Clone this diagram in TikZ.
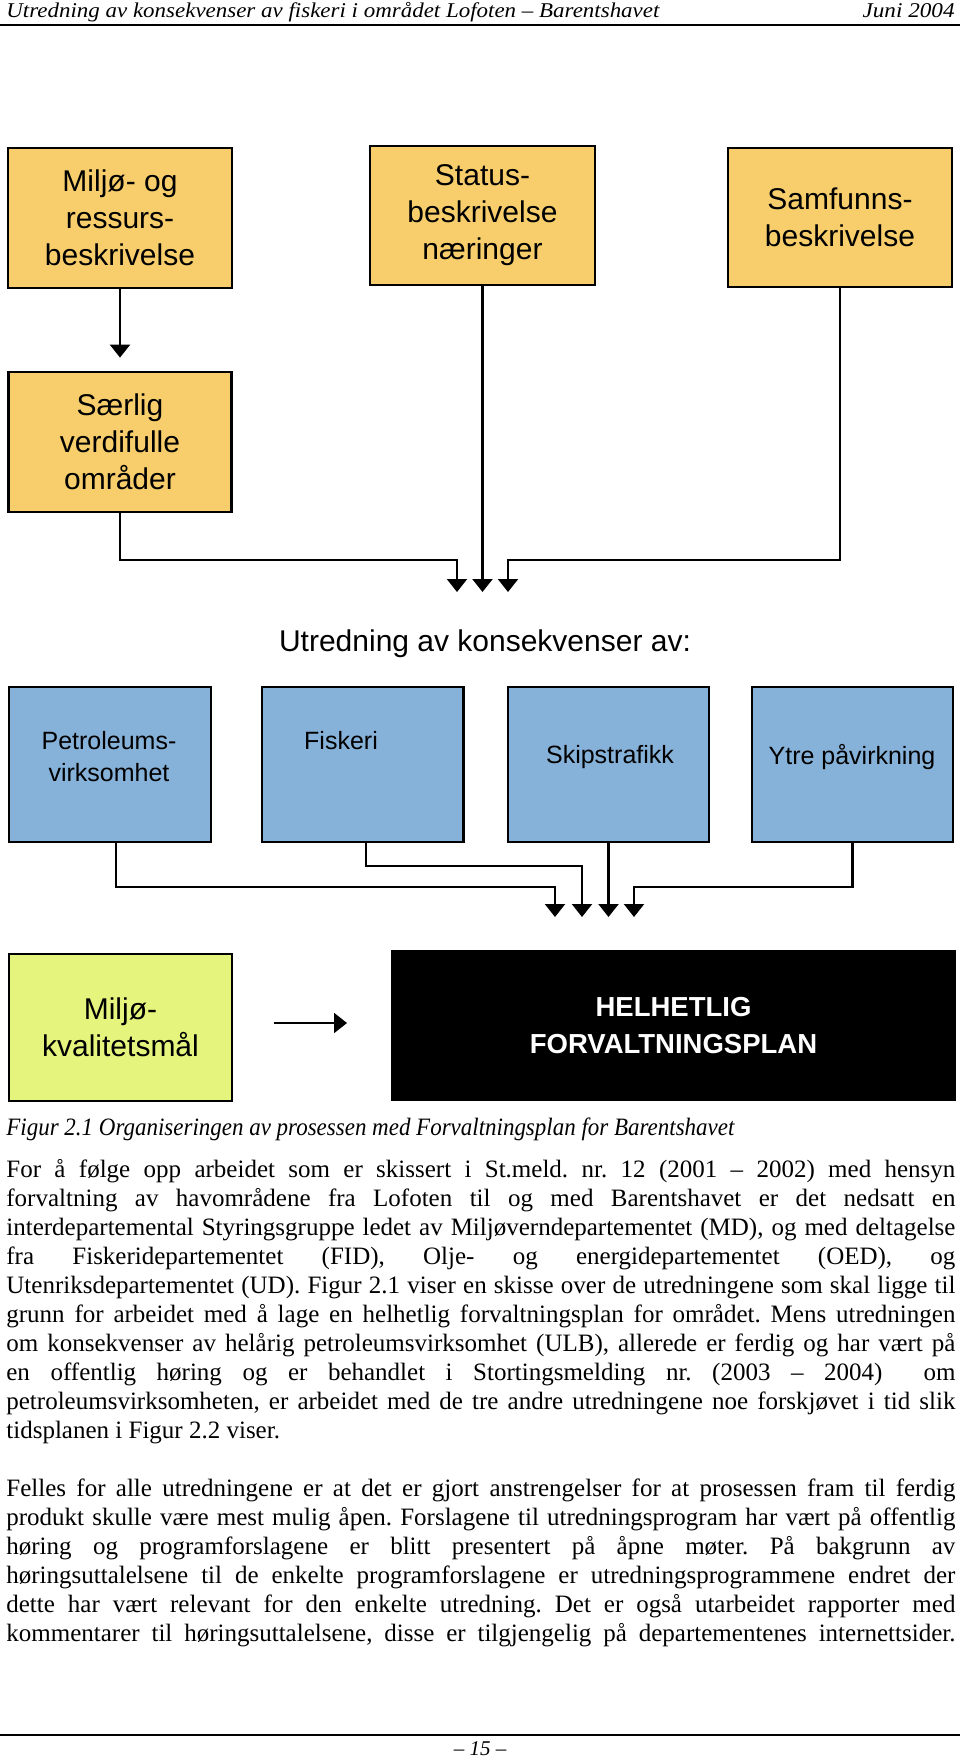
\documentclass[tikz,border=0pt]{standalone}
\usepackage{fontspec}
\usepackage{graphicx}
\setmainfont{Liberation Serif}
\newfontfamily\arial{Liberation Sans}
\usetikzlibrary{arrows.meta}
\definecolor{boxyellow}{RGB}{247,206,107}
\definecolor{boxblue}{RGB}{134,177,216}
\definecolor{boxlime}{RGB}{228,244,124}
\frenchspacing
\tikzset{
  box/.style={draw=black, line width=1.4pt, inner sep=0pt, align=center, font=\arial\fontsize{15}{18.5}\selectfont},
  ybox/.style={box, fill=boxyellow},
  bbox/.style={box, fill=boxblue},
  conn/.style={line width=1.1pt, draw=black},
  arr/.style={-{Triangle[width=10pt,length=6.5pt]}},
  blab/.style={align=center, inner sep=0pt, font=\arial\fontsize{12.5}{16}\selectfont},
  bodyline/.style={anchor=base west, inner sep=0pt, font=\fontsize{12.5}{14.5}\selectfont},
}
\newcommand{\jl}[3]{\node[bodyline] (#1) at (6,#2) {\makebox[474.5pt][s]{#3}};}
\begin{document}
\begin{tikzpicture}[x=0.5pt,y=-0.5pt]
\useasboundingbox[fill=white] (0,0) rectangle (960,1760);

% header
\node[anchor=base west, inner sep=0pt] (hdr) at (6,18) {\resizebox{326.5pt}{\height}{\itshape\fontsize{10.5}{12}\selectfont Utredning av konsekvenser av fiskeri i området Lofoten – Barentshavet}};
\node[anchor=base east, inner sep=0pt] (date) at (955,18) {\resizebox{46pt}{\height}{\itshape\fontsize{10.5}{12}\selectfont Juni 2004}};
\draw[line width=1pt] (0,25) -- (960,25);

% top boxes
\node[ybox, minimum width=112pt, minimum height=70pt] (A) at (120,218) {Miljø- og\\ressurs-\\beskrivelse};
\node[ybox, minimum width=112.5pt, minimum height=69.5pt] (B) at (482.5,215.5) {Status-\\beskrivelse\\næringer};
\node[ybox, minimum width=112pt, minimum height=69.5pt] (C) at (840,217.5) {Samfunns-\\beskrivelse};
\node[ybox, minimum width=111.5pt, minimum height=70pt] (D) at (120,442) {Særlig\\verdifulle\\områder};

\coordinate (t1) at (457,592);
\coordinate (t2) at (482.5,592);
\coordinate (t3) at (508,592);
\draw[conn, arr] (A.south) -- ([yshift=6.5pt]D.north);
\draw[conn, arr] (D.south) |- ([yshift=16pt]t1) -- (t1);
\draw[conn, arr] (B.south) -- (t2);
\draw[conn, arr] (C.south) |- ([yshift=16pt]t3) -- (t3);

\node[inner sep=0pt, font=\arial\fontsize{15}{18}\selectfont] (utr) at (485,644) {Utredning av konsekvenser av:};

% blue boxes
\node[bbox, minimum width=101pt, minimum height=77.5pt] (E) at (110,764.5) {};
\node[bbox, minimum width=100.75pt, minimum height=77.5pt] (F) at (362.75,764.5) {};
\node[bbox, minimum width=100.5pt, minimum height=77.5pt] (G) at (608.5,764.5) {};
\node[bbox, minimum width=100.5pt, minimum height=77.5pt] (H) at (852.5,764.5) {};
\node[blab] (Et) at (109,757) {Petroleums-\\virksomhet};
\node[blab] (Ft) at (341,741) {Fiskeri};
\node[blab] (Gt) at (610,757) {Skipstrafikk};
\node[blab] (Ht) at (852,757) {Ytre påvirkning};

\coordinate (s1) at (555,917);
\coordinate (s2) at (582,917);
\coordinate (s3) at (608.5,917);
\coordinate (s4) at (634,917);
\draw[conn, arr] ([xshift=3pt]E.south) |- ([yshift=15pt]s1) -- (s1);
\draw[conn, arr] ([xshift=1.75pt]F.south) |- ([yshift=25.5pt]s2) -- (s2);
\draw[conn, arr] (G.south) -- (s3);
\draw[conn, arr] (H.south) |- ([yshift=15pt]s4) -- (s4);

% bottom row
\node[box, fill=boxlime, minimum width=111.5pt, minimum height=73.5pt] (I) at (120.5,1027.5) {Miljø-\\kvalitetsmål};
\node[box, fill=black, text=white, minimum width=281.5pt, minimum height=74.5pt, font=\arial\bfseries\fontsize{13.75}{18.5}\selectfont] (J) at (673.5,1025.5) {HELHETLIG\\FORVALTNINGSPLAN};
\coordinate (ka) at (274,1023);
\coordinate (kb) at (347,1023);
\draw[conn, arr] (ka) -- (kb);

% caption
\node[anchor=base west, inner sep=0pt] (cap) at (6,1135) {\resizebox{364pt}{\height}{\itshape\fontsize{12.5}{14}\selectfont Figur 2.1 Organiseringen av prosessen med Forvaltningsplan for Barentshavet}};

% body text
\jl{l1}{1177}{For å følge opp arbeidet som er skissert i St.meld. nr. 12 (2001 – 2002) med hensyn}
\jl{l2}{1206}{forvaltning av havområdene fra Lofoten til og med Barentshavet er det nedsatt en}
\jl{l3}{1235}{interdepartemental Styringsgruppe ledet av Miljøverndepartementet (MD), og med deltagelse}
\jl{l4}{1264}{fra Fiskeridepartementet (FID), Olje- og energidepartementet (OED), og}
\jl{l5}{1293}{Utenriksdepartementet (UD). Figur 2.1 viser en skisse over de utredningene som skal ligge til}
\jl{l6}{1322}{grunn for arbeidet med å lage en helhetlig forvaltningsplan for området. Mens utredningen}
\jl{l7}{1351}{om konsekvenser av helårig petroleumsvirksomhet (ULB), allerede er ferdig og har vært på}
\jl{l8}{1380}{en offentlig høring og er behandlet i Stortingsmelding nr. (2003 – 2004)\ \ om}
\jl{l9}{1409}{petroleumsvirksomheten, er arbeidet med de tre andre utredningene noe forskjøvet i tid slik}
\node[bodyline] (l10) at (6,1438) {tidsplanen i Figur 2.2 viser.};

\jl{m1}{1496}{Felles for alle utredningene er at det er gjort anstrengelser for at prosessen fram til ferdig}
\jl{m2}{1525}{produkt skulle være mest mulig åpen. Forslagene til utredningsprogram har vært på offentlig}
\jl{m3}{1554}{høring og programforslagene er blitt presentert på åpne møter. På bakgrunn av}
\jl{m4}{1583}{høringsuttalelsene til de enkelte programforslagene er utredningsprogrammene endret der}
\jl{m5}{1612}{dette har vært relevant for den enkelte utredning. Det er også utarbeidet rapporter med}
\jl{m6}{1641}{kommentarer til høringsuttalelsene, disse er tilgjengelig på departementenes internettsider.}

% footer
\draw[line width=1pt] (0,1735) -- (960,1735);
\node[anchor=base, inner sep=0pt, font=\itshape\fontsize{10.5}{12}\selectfont] (pg) at (480,1755) {– 15 –};
\end{tikzpicture}
\end{document}
